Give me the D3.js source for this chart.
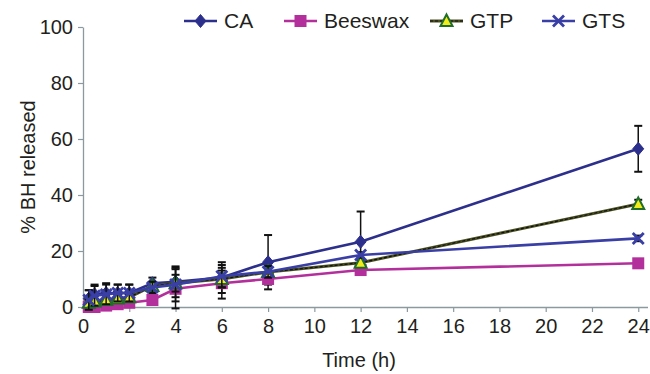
<!DOCTYPE html>
<html>
<head>
<meta charset="utf-8">
<script src="https://cdn.jsdelivr.net/npm/d3@7/dist/d3.min.js"></script>
<style>
  html, body { margin: 0; padding: 0; background: #fff; }
  svg { display: block; font-family: "Liberation Sans", Arial, sans-serif; }
</style>
</head>
<body>
<svg id="chart" width="650" height="374"></svg>
<script>
// Release time points (h)
const times = [0.25, 0.5, 1, 1.5, 2, 3, 4, 6, 8, 12, 24];

// % BH released per formulation
const caValues      = [3, 4.5, 5, 5, 5, 8.5, 9, 10.5, 16, 23.3, 56.5];
const beeswaxValues = [0, 0, 0.5, 1, 1.5, 2.5, 6.5, 8.5, 10, 13.2, 15.6];
const gtpValues     = [1.5, 2, 2.5, 3, 3.5, 7.5, 8.5, 10, 12.5, 15.8, 36.8];
const gtsValues     = [2.5, 4, 4.5, 5, 5, 7, 8, 11, 12.6, 18.6, 24.5];

// Standard deviations
const caErrors      = [3, 3.5, 3.5, 3, 3, 2, 5.5, 5.5, 9.7, 10.8, 8.2];
const beeswaxErrors = [1, 1, 1, 1, 1, 1, 7, 5.5, 2, 1, 1];
const gtpErrors     = [1, 1, 1, 1, 1, 1, 3, 3, 2, 1, 1.5];
const gtsErrors     = [3.5, 3.5, 3.5, 3, 3, 2, 6, 4, 2, 1, 1];

const xTicks = [0, 2, 4, 6, 8, 10, 12, 14, 16, 18, 20, 22, 24];
const yTicks = [0, 20, 40, 60, 80, 100];

const series = [
  { name: "CA",      values: caValues,      errors: caErrors,      color: "#2c2f8c", marker: "diamond" },
  { name: "Beeswax", values: beeswaxValues, errors: beeswaxErrors, color: "#b3309c", marker: "square" },
  { name: "GTP",     values: gtpValues,     errors: gtpErrors,     color: "#4a4f22", marker: "triangle" },
  { name: "GTS",     values: gtsValues,     errors: gtsErrors,     color: "#3a3fa6", marker: "cross" }
];

const svg = d3.select("#chart");
const axisColor = "#8c9aa0";
const textColor = "#231f20";

const x = d3.scaleLinear().domain([0, 24.4]).range([83, 647.5]);
const y = d3.scaleLinear().domain([0, 100]).range([307, 27]);

// Axes
const xAxis = svg.append("g").attr("transform", `translate(0,${y(0)})`)
  .call(d3.axisBottom(x).tickValues(xTicks).tickSize(5).tickPadding(7).tickSizeOuter(0));
const yAxis = svg.append("g").attr("transform", `translate(${x(0)},0)`)
  .call(d3.axisLeft(y).tickValues(yTicks).tickSize(5).tickPadding(5).tickSizeOuter(0));
[xAxis, yAxis].forEach(g => {
  g.select(".domain").attr("stroke", axisColor).attr("stroke-width", 1.3);
  g.selectAll(".tick line").attr("stroke", axisColor).attr("stroke-width", 1.2);
  g.selectAll(".tick text").attr("fill", textColor).attr("font-size", 20)
    .attr("font-family", "Liberation Sans, Arial, sans-serif");
});

// Axis titles
svg.append("text").attr("x", 359).attr("y", 367).attr("text-anchor", "middle")
  .attr("fill", textColor).attr("font-size", 20).text("Time (h)");
svg.append("text").attr("transform", `translate(35,${y(50)}) rotate(-90)`)
  .attr("text-anchor", "middle").attr("fill", textColor).attr("font-size", 20)
  .text("% BH released");

// Marker drawing
function drawMarker(g, type, color, cx, cy) {
  if (type === "diamond") {
    g.append("path").attr("d", `M${cx},${cy - 6.5}L${cx + 5.5},${cy}L${cx},${cy + 6.5}L${cx - 5.5},${cy}Z`)
      .attr("fill", color).attr("stroke", color).attr("stroke-width", 1);
  } else if (type === "square") {
    g.append("rect").attr("x", cx - 6).attr("y", cy - 6).attr("width", 12).attr("height", 12)
      .attr("fill", color);
  } else if (type === "triangle") {
    g.append("path").attr("d", `M${cx},${cy - 6.5}L${cx + 6},${cy + 5}L${cx - 6},${cy + 5}Z`)
      .attr("fill", "#f2ec1c").attr("stroke", "#1f6e2a").attr("stroke-width", 2);
  } else if (type === "cross") {
    g.append("path").attr("d", `M${cx - 5.5},${cy - 5.5}L${cx + 5.5},${cy + 5.5}M${cx - 5.5},${cy + 5.5}L${cx + 5.5},${cy - 5.5}`)
      .attr("stroke", color).attr("stroke-width", 2.8).attr("fill", "none");
  }
}

const line = d3.line().x(d => x(d.t)).y(d => y(d.v));

series.forEach(s => {
  const pts = times.map((t, i) => ({ t, v: s.values[i], e: s.errors[i] }));
  const g = svg.append("g");
  // Error bars
  pts.forEach(p => {
    const x0 = x(p.t), top = y(p.v + p.e), bot = y(Math.max(p.v - p.e, -1));
    g.append("line").attr("x1", x0).attr("x2", x0).attr("y1", top).attr("y2", bot)
      .attr("stroke", "#111").attr("stroke-width", 1.5);
    [top, bot].forEach(yy => g.append("line").attr("x1", x0 - 4).attr("x2", x0 + 4)
      .attr("y1", yy).attr("y2", yy).attr("stroke", "#111").attr("stroke-width", 2));
  });
  // Connecting line
  if (s.name === "GTP") {
    g.append("path").datum(pts).attr("d", line).attr("fill", "none")
      .attr("stroke", s.color).attr("stroke-width", 3);
    g.append("path").datum(pts).attr("d", line).attr("fill", "none")
      .attr("stroke", "#111").attr("stroke-width", 1.2).attr("stroke-dasharray", "3,2");
  } else {
    g.append("path").datum(pts).attr("d", line).attr("fill", "none")
      .attr("stroke", s.color).attr("stroke-width", 2.6);
  }
  pts.forEach(p => drawMarker(g, s.marker, s.color, x(p.t), y(p.v)));
});

// Legend
const legendItems = [
  { s: series[0], x0: 184 },
  { s: series[1], x0: 284 },
  { s: series[2], x0: 430 },
  { s: series[3], x0: 542 }
];
const ly = 21;
legendItems.forEach(({ s, x0 }) => {
  const g = svg.append("g");
  if (s.name === "GTP") {
    g.append("line").attr("x1", x0).attr("x2", x0 + 33).attr("y1", ly).attr("y2", ly)
      .attr("stroke", s.color).attr("stroke-width", 3);
    g.append("line").attr("x1", x0).attr("x2", x0 + 33).attr("y1", ly).attr("y2", ly)
      .attr("stroke", "#111").attr("stroke-width", 1.2).attr("stroke-dasharray", "3,2");
  } else {
    g.append("line").attr("x1", x0).attr("x2", x0 + 33).attr("y1", ly).attr("y2", ly)
      .attr("stroke", s.color).attr("stroke-width", 2.6);
  }
  drawMarker(g, s.marker, s.color, x0 + 16.5, ly);
  g.append("text").attr("x", x0 + 40).attr("y", ly + 7).attr("fill", textColor)
    .attr("font-size", 21).text(s.name);
});
</script>
</body>
</html>
